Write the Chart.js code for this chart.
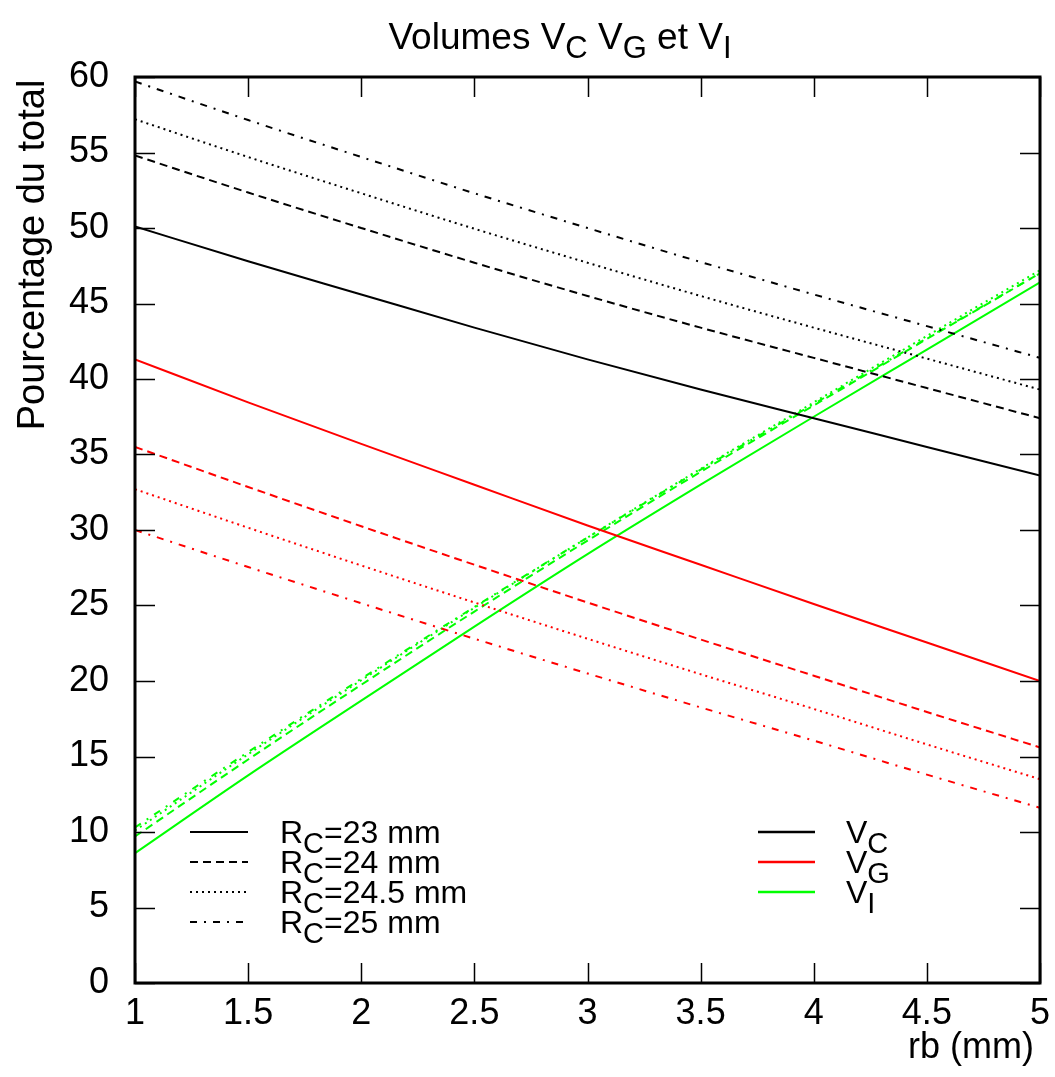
<!DOCTYPE html>
<html>
<head>
<meta charset="utf-8">
<script src="https://cdn.jsdelivr.net/npm/chart.js@4/dist/chart.umd.min.js"></script>
<style>
  html, body { margin: 0; padding: 0; background: #fff; }
  #c { display: block; }
</style>
</head>
<body>
<canvas id="c" width="1055" height="1077"></canvas>
<script>
// rb (mm)
const rb = [1, 1.5, 2, 2.5, 3, 3.5, 4, 4.5, 5];

// Rc = 23 mm
const vc23 = [50.1, 47.8, 45.6, 43.4, 41.3, 39.3, 37.4, 35.5, 33.6];
const vg23 = [41.3, 38.45, 35.7, 33.0, 30.3, 27.7, 25.1, 22.55, 20.0];
const vi23 = [8.6, 13.75, 18.7, 23.6, 28.4, 33.0, 37.5, 41.95, 46.4];
// Rc = 24 mm
const vc24 = [54.8, 52.35, 50.0, 47.7, 45.5, 43.4, 41.4, 39.4, 37.4];
const vg24 = [35.5, 32.85, 30.25, 27.7, 25.2, 22.75, 20.35, 17.95, 15.6];
const vi24 = [9.7, 14.8, 19.75, 24.6, 29.3, 33.85, 38.25, 42.65, 47.0];
// Rc = 24.5 mm
const vc245 = [57.2, 54.7, 52.3, 49.95, 47.7, 45.5, 43.4, 41.35, 39.3];
const vg245 = [32.7, 30.15, 27.65, 25.2, 22.8, 20.45, 18.15, 15.8, 13.5];
const vi245 = [10.1, 15.15, 20.05, 24.85, 29.5, 34.05, 38.45, 42.85, 47.2];
// Rc = 25 mm
const vc25 = [59.7, 57.15, 54.7, 52.3, 50.0, 47.75, 45.6, 43.5, 41.4];
const vg25 = [30.0, 27.55, 25.15, 22.8, 20.5, 18.25, 16.05, 13.8, 11.6];
const vi25 = [10.3, 15.3, 20.15, 24.9, 29.5, 34.0, 38.35, 42.7, 47.0];

const yTicks = [0, 5, 10, 15, 20, 25, 30, 35, 40, 45, 50, 55, 60];
const xTicks = [1, 1.5, 2, 2.5, 3, 3.5, 4, 4.5, 5];

const FONT = "'Liberation Sans', Arial, sans-serif";
const BLACK = "#000000", RED = "#ff0000", GREEN = "#00ff00";

// line styles per Rc
const dashes = {
  "23": [],
  "24": [8, 5],
  "24.5": [2, 4],
  "25": [7, 7, 2, 7],
};

function pts(ys) {
  return rb.map((x, i) => ({ x: x, y: ys[i] }));
}

function ds(label, ys, color, rc) {
  return {
    label: label,
    data: pts(ys),
    borderColor: color,
    borderWidth: 2,
    borderDash: dashes[rc],
    pointRadius: 0,
    fill: false,
    cubicInterpolationMode: "monotone",
  };
}

const datasets = [
  ds("VC 23", vc23, BLACK, "23"),
  ds("VC 24", vc24, BLACK, "24"),
  ds("VC 24.5", vc245, BLACK, "24.5"),
  ds("VC 25", vc25, BLACK, "25"),
  ds("VG 23", vg23, RED, "23"),
  ds("VG 24", vg24, RED, "24"),
  ds("VG 24.5", vg245, RED, "24.5"),
  ds("VG 25", vg25, RED, "25"),
  ds("VI 23", vi23, GREEN, "23"),
  ds("VI 24", vi24, GREEN, "24"),
  ds("VI 24.5", vi245, GREEN, "24.5"),
  ds("VI 25", vi25, GREEN, "25"),
];

// text with a subscript: parts = [[text, isSub], ...]
function drawSub(ctx, x, y, parts, size, align, subScale, subDrop) {
  const subSize = Math.round(size * subScale);
  let w = 0;
  parts.forEach(p => {
    ctx.font = (p[1] ? subSize : size) + "px " + FONT;
    w += ctx.measureText(p[0]).width;
  });
  let cx = align === "center" ? x - w / 2 : x;
  ctx.textAlign = "left";
  ctx.textBaseline = "alphabetic";
  parts.forEach(p => {
    ctx.font = (p[1] ? subSize : size) + "px " + FONT;
    ctx.fillText(p[0], cx, y + (p[1] ? subDrop : 0));
    cx += ctx.measureText(p[0]).width;
  });
}

const framePlugin = {
  id: "frame",
  afterDatasetsDraw(chart) {
    const ctx = chart.ctx;
    const a = chart.chartArea;
    const xs = chart.scales.x, ys = chart.scales.y;
    ctx.save();
    ctx.fillStyle = "#000";
    ctx.strokeStyle = "#000";

    // inward ticks on all four sides
    ctx.lineWidth = 1.5;
    ctx.beginPath();
    xTicks.forEach(v => {
      const px = Math.round(xs.getPixelForValue(v)) + 0.5;
      ctx.moveTo(px, a.bottom); ctx.lineTo(px, a.bottom - 20);
      ctx.moveTo(px, a.top); ctx.lineTo(px, a.top + 20);
    });
    yTicks.forEach(v => {
      const py = Math.round(ys.getPixelForValue(v)) + 0.5;
      ctx.moveTo(a.left, py); ctx.lineTo(a.left + 20, py);
      ctx.moveTo(a.right, py); ctx.lineTo(a.right - 20, py);
    });
    ctx.stroke();

    // frame
    ctx.lineWidth = 3;
    ctx.strokeRect(a.left, a.top, a.right - a.left, a.bottom - a.top);

    // title
    drawSub(ctx, 560, 49, [["Volumes V", 0], ["C", 1], [" V", 0], ["G", 1], [" et V", 0], ["I", 1]], 37, "center", 0.85, 9);

    // axis titles
    ctx.font = "36px " + FONT;
    ctx.textAlign = "right";
    ctx.textBaseline = "middle";
    ctx.fillText("rb (mm)", 1034, 1048);
    ctx.save();
    ctx.translate(34, 255);
    ctx.rotate(-Math.PI / 2);
    ctx.textAlign = "center";
    ctx.font = "38px " + FONT;
    ctx.fillText("Pourcentage du total", 0, 0);
    ctx.restore();

    // legend: line styles (Rc)
    const rcRows = [["23", "=23 mm"], ["24", "=24 mm"], ["24.5", "=24.5 mm"], ["25", "=25 mm"]];
    rcRows.forEach((r, i) => {
      const y = 832 + i * 30;
      ctx.lineWidth = 2;
      ctx.strokeStyle = "#000";
      ctx.setLineDash(dashes[r[0]]);
      ctx.beginPath();
      ctx.moveTo(190, y); ctx.lineTo(248, y);
      ctx.stroke();
      ctx.setLineDash([]);
      drawSub(ctx, 280, y + 11, [["R", 0], ["C", 1], [r[1], 0]], 32, "left", 0.9, 10);
    });

    // legend: colours (volumes)
    const vRows = [[BLACK, "C"], [RED, "G"], [GREEN, "I"]];
    vRows.forEach((r, i) => {
      const y = 832 + i * 30;
      ctx.lineWidth = 2.5;
      ctx.strokeStyle = r[0];
      ctx.beginPath();
      ctx.moveTo(758, y); ctx.lineTo(815, y);
      ctx.stroke();
      drawSub(ctx, 846, y + 11, [["V", 0], [r[1], 1]], 32, "left", 0.9, 10);
    });
    ctx.restore();
  },
};

new Chart(document.getElementById("c"), {
  type: "line",
  data: { datasets: datasets },
  options: {
    responsive: false,
    animation: false,
    devicePixelRatio: 1,
    layout: { padding: { left: 0, top: 77, right: 15, bottom: 0 } },
    plugins: {
      legend: { display: false },
      title: { display: false },
      tooltip: { enabled: false },
    },
    scales: {
      x: {
        type: "linear",
        min: 1,
        max: 5,
        grid: { display: false },
        border: { display: false },
        afterFit(s) { s.height = 94; },
        afterBuildTicks(s) { s.ticks = xTicks.map(v => ({ value: v })); },
        ticks: {
          color: "#000",
          font: { family: FONT, size: 36 },
          padding: 1,
          maxRotation: 0,
          autoSkip: false,
          callback: v => String(v),
        },
      },
      y: {
        type: "linear",
        min: 0,
        max: 60,
        grid: { display: false },
        border: { display: false },
        afterFit(s) { s.width = 135; },
        afterBuildTicks(s) { s.ticks = yTicks.map(v => ({ value: v })); },
        ticks: {
          color: "#000",
          font: { family: FONT, size: 36 },
          padding: 18,
          callback: v => String(v),
        },
      },
    },
  },
  plugins: [framePlugin],
});
</script>
</body>
</html>
